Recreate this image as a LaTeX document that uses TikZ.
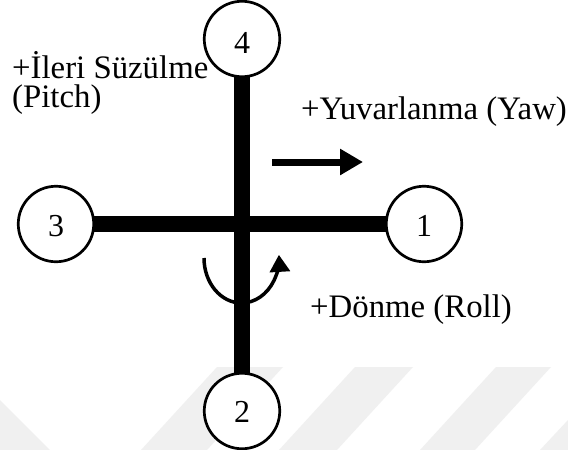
\documentclass[tikz,border=0pt]{standalone}
\usepackage{fontspec}
\setmainfont{Liberation Serif}
\usetikzlibrary{arrows.meta,backgrounds}
\begin{document}
\begin{tikzpicture}[x=1pt,y=-1pt,
  wm/.style={fill=black!6,draw=none},
  motor/.style={circle,draw,line width=2.7pt,fill=white,minimum size=75.5pt,inner sep=0pt},
  digit/.style={font=\fontsize{32}{29}\selectfont,inner sep=0pt},
  lbl/.style={font=\fontsize{32.8}{29}\selectfont,inner sep=0pt,anchor=base west},
  arm/.style={line width=16.5pt},
  rotarrow/.style={line width=3.5pt,-{Triangle[length=17pt,width=20pt]}},
  yawarrow/.style={line width=7pt,-{Triangle[length=23pt,width=25pt]}}]
\useasboundingbox (0,0) rectangle (568,450);
% motors
\node[motor] (n4) at (242,39) {};
\node[motor] (n3) at (56,224) {};
\node[motor] (n1) at (424,224) {};
\node[motor] (n2) at (242,411) {};
\node[digit] (t4) at ([yshift=-4pt]n4.center) {4};
\node[digit] (t3) at ([yshift=-2pt]n3.center) {3};
\node[digit] (t1) at ([yshift=-2pt]n1.center) {1};
\node[digit] (t2) at ([yshift=-1pt]n2.center) {2};
% background: page, watermark and arms
\begin{scope}[on background layer]
  \fill[white] (0,0) rectangle (568,450);
  \fill[wm] (0,400) -- (50,450) -- (0,450) -- cycle;
  \fill[wm] (217,367) -- (283,367) -- (207,450) -- (141,450) -- cycle;
  \fill[wm] (355,367) -- (413,367) -- (337,450) -- (279,450) -- cycle;
  \fill[wm] (496,367) -- (551,367) -- (475,450) -- (420,450) -- cycle;
  \fill[wm] (568,420) -- (568,450) -- (540,450) -- cycle;
  \draw[arm] (n3.center) -- (n1.center);
  \draw[arm] (n4.center) -- (n2.center);
\end{scope}
% rotation arrow (roll)
\coordinate (r0) at (204,258);
\draw[rotarrow] (r0) arc[start angle=180,end angle=-4,x radius=37.5,y radius=45];
% yaw arrow
\coordinate (y0) at (272,162);
\coordinate (y1) at (363,162);
\draw[yawarrow] (y0) -- (y1);
% labels
\node[lbl] (pitch1) at (12,78) {+İleri Süzülme};
\node[lbl] (pitch2) at (12,107) {(Pitch)};
\node[lbl] (yaw) at (301,119) {+Yuvarlanma (Yaw)};
\node[lbl] (roll) at (310,317) {+Dönme (Roll)};
\end{tikzpicture}
\end{document}
